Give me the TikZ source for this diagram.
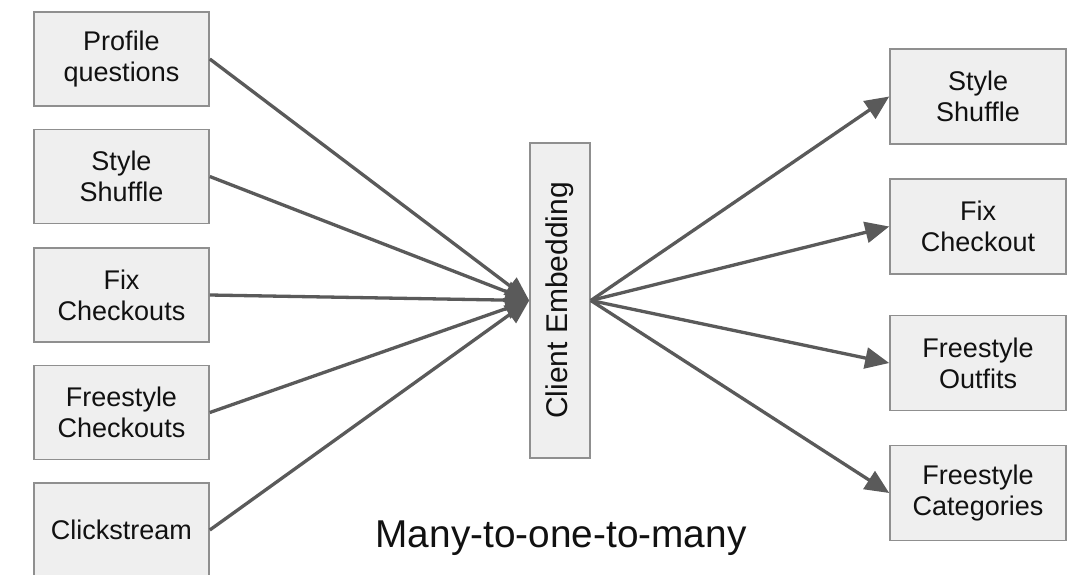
\documentclass[tikz,border=0pt]{standalone}
\usepackage{fontspec}
\setmainfont{Liberation Sans}
\usetikzlibrary{arrows.meta}
\definecolor{boxfill}{HTML}{EFEFEF}
\definecolor{boxline}{HTML}{8F8F8F}
\definecolor{arr}{HTML}{5A5A5A}
\definecolor{txt}{HTML}{111111}
\begin{document}
\begin{tikzpicture}[x=1pt,y=-1pt,
  box/.style={draw=boxline, line width=1.6pt, fill=boxfill, inner sep=0pt,
    align=center, text=txt, font=\fontsize{27}{31}\selectfont},
  lbox/.style={box, minimum width=175pt, minimum height=94pt},
  rbox/.style={box, minimum width=176pt, minimum height=95pt},
  conn/.style={draw=arr, line width=3.3pt, -{Triangle[length=24pt,width=21pt]}}]
\useasboundingbox (0,0) rectangle (1070,574);
\fill[white] (0,0) rectangle (1070,574);
% left boxes
\node[lbox] (l1) at (121.5,59) {Profile\\questions};
\node[lbox] (l2) at (121.5,176.5) {Style\\Shuffle};
\node[lbox] (l3) at (121.5,295) {Fix\\Checkouts};
\node[lbox] (l4) at (121.5,412.5) {Freestyle\\Checkouts};
\node[lbox] (l5) at (121.5,530) {Clickstream};
% center
\node[box, minimum width=60pt, minimum height=315pt] (c) at (560,300.5) {};
\node[rotate=90, text=txt, font=\fontsize{30}{34}\selectfont] (ct) at (c) {Client Embedding};
% right boxes
\node[rbox] (r1) at (978,96.5) {Style\\Shuffle};
\node[rbox] (r2) at (978,226.5) {Fix\\Checkout};
\node[rbox] (r3) at (978,363) {Freestyle\\Outfits};
\node[rbox] (r4) at (978,493) {Freestyle\\Categories};
% caption
\node[text=txt, font=\fontsize{38.8}{44}\selectfont, anchor=base] (cap) at (561,547) {Many-to-one-to-many};
% connectors
\foreach \n in {l1,l2,l3,l4,l5} \draw[conn] (\n.east) -- (c.west);
\foreach \n in {r1,r2,r3,r4} \draw[conn] (c.east) -- (\n.west);
\end{tikzpicture}
\end{document}
